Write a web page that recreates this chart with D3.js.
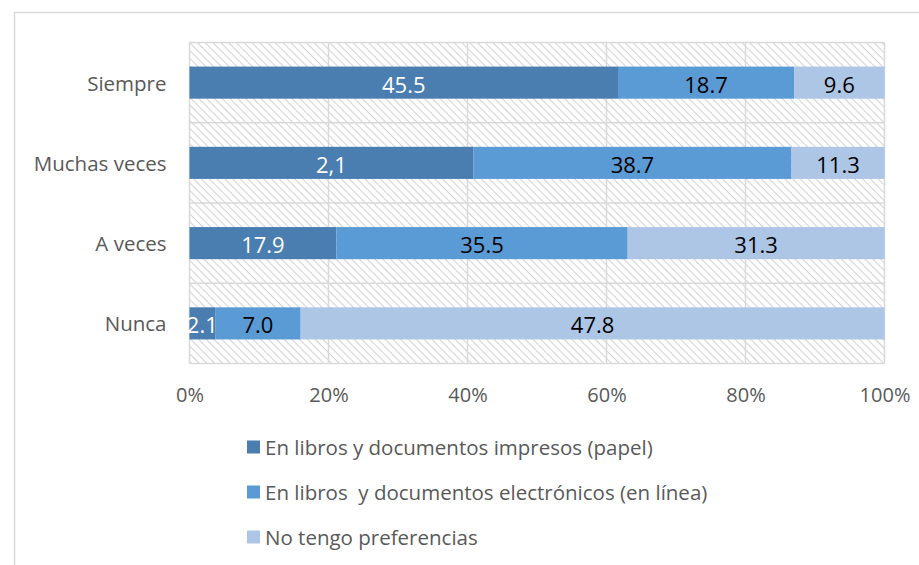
<!DOCTYPE html>
<html><head><meta charset="utf-8">
<script src="https://cdn.jsdelivr.net/npm/d3@7"></script>
<style>body{margin:0;background:#fff}svg{display:block}</style>
</head><body><svg id="c" width="919" height="565"></svg>
<script>
const categories = ["Siempre", "Muchas veces", "A veces", "Nunca"];
const seriesNames = ["En libros y documentos impresos (papel)", "En libros  y documentos electrónicos (en línea)", "No tengo preferencias"];
const impresos = [45.5, 34.5, 17.9, 2.1];
const electronicos = [18.7, 38.7, 35.5, 7.0];
const sinPreferencia = [9.6, 11.3, 31.3, 47.8];
const labelsImpresos = ["45.5", "2,1", "17.9", "2.1"];
const labelsElectronicos = ["18.7", "38.7", "35.5", "7.0"];
const labelsSinPref = ["9.6", "11.3", "31.3", "47.8"];
const xTicks = [0, 0.2, 0.4, 0.6, 0.8, 1.0];

const colors = ["#4a7db0", "#5b9bd5", "#adc6e6"];
const labelColors = ["#ffffff", "#000000", "#000000"];
const FONT = "'Open Sans', sans-serif";

const svg = d3.select("#c");
const W = 919, H = 565;
const m = {left: 189.5, right: W - 884.5, top: 42.5, bottom: H - 363.5};

// outer frame
svg.append("path").attr("d", `M14.5,${H}V12.5H${W}`).attr("fill","none").attr("stroke","#d9d9d9").attr("stroke-width",1.5);

// hatch pattern
const defs = svg.append("defs");
const pat = defs.append("pattern").attr("id","hatch").attr("patternUnits","userSpaceOnUse")
  .attr("width",5.5).attr("height",5.5).attr("patternTransform","rotate(45)");
pat.append("rect").attr("width",5.5).attr("height",5.5).attr("fill","#fff");
pat.append("line").attr("x1",0).attr("y1",0).attr("x2",5.5).attr("y2",0).attr("stroke","#d4d4d4").attr("stroke-width",2.2);

const x = d3.scaleLinear().domain([0,1]).range([m.left, W - m.right]);
const y = d3.scaleBand().domain(categories).range([m.top, H - m.bottom]).paddingInner(0).paddingOuter(0);
const barH = y.bandwidth()*0.4;

svg.append("rect").attr("x",x(0)).attr("y",m.top).attr("width",x(1)-x(0)).attr("height",H-m.bottom-m.top).attr("fill","url(#hatch)");

// gridlines
const g = svg.append("g");
g.selectAll("line.v").data(xTicks).join("line").attr("x1",d=>x(d)).attr("x2",d=>x(d))
  .attr("y1",m.top).attr("y2",H-m.bottom).attr("stroke","#d9d9d9").attr("stroke-width",1.5);
const hb = categories.map(c=>y(c)).concat([H-m.bottom]);
g.selectAll("line.h").data(hb).join("line").attr("x1",x(0)).attr("x2",x(1))
  .attr("y1",d=>d).attr("y2",d=>d).attr("stroke","#d9d9d9").attr("stroke-width",1.5);

// stack
const rows = categories.map((c,i)=>({cat:c, a:impresos[i], b:electronicos[i], c2:sinPreferencia[i]}));
const keys = ["a","b","c2"];
const labs = [labelsImpresos, labelsElectronicos, labelsSinPref];
const stacked = d3.stack().keys(keys).offset(d3.stackOffsetExpand)(rows);

stacked.forEach((layer, li) => {
  svg.append("g").selectAll("rect").data(layer).join("rect")
    .attr("x", d=>x(d[0])).attr("width", d=>x(d[1])-x(d[0]))
    .attr("y", d=>y(d.data.cat)+ (y.bandwidth()-barH)/2).attr("height", barH)
    .attr("fill", colors[li]);
});
stacked.forEach((layer, li) => {
  svg.append("g").selectAll("text").data(layer).join("text")
    .attr("x", d=>(x(d[0])+x(d[1]))/2).attr("y", d=>y(d.data.cat)+y.bandwidth()/2+1)
    .attr("text-anchor","middle").attr("dominant-baseline","central")
    .attr("font-family",FONT).attr("font-size",22).attr("fill",labelColors[li])
    .text((d,i)=>labs[li][i]);
});

// category axis labels
svg.append("g").selectAll("text").data(categories).join("text")
  .attr("x", m.left-23).attr("y", d=>y(d)+y.bandwidth()/2)
  .attr("text-anchor","end").attr("dominant-baseline","central")
  .attr("font-family",FONT).attr("font-size",20.5).attr("fill","#595959").text(d=>d);

// x axis
const xa = svg.append("g").attr("transform",`translate(0,${H-m.bottom+31})`)
  .call(d3.axisBottom(x).tickValues(xTicks).tickFormat(d3.format(".0%")).tickSize(0));
xa.select(".domain").remove();
xa.selectAll("text").attr("font-family",FONT).attr("font-size",20).attr("fill","#595959").attr("dy","0.35em").attr("y",0);

// legend
const lg = svg.append("g").selectAll("g").data(seriesNames).join("g")
  .attr("transform",(d,i)=>`translate(247,${447+i*45})`);
lg.append("rect").attr("x",0).attr("y",-6.5).attr("width",13).attr("height",13).attr("fill",(d,i)=>colors[i]);
lg.append("text").attr("x",18).attr("y",0).attr("dominant-baseline","central").style("white-space","pre")
  .attr("font-family",FONT).attr("font-size",20.5).attr("fill","#595959").text(d=>d);
</script></body></html>
